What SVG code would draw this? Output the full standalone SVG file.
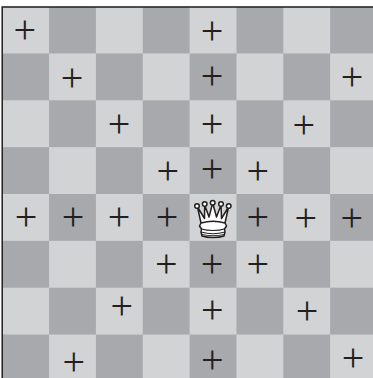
<svg xmlns="http://www.w3.org/2000/svg" width="373" height="378" viewBox="0 0 373 378">
<style>
.l{fill:#d1d3d4}.d{fill:#a7a9ac}
.p{font-family:"Liberation Serif",serif;font-size:40px;fill:#231f20;text-anchor:middle}
.q{fill:#fff;stroke:#231f20;stroke-width:1.500;stroke-linejoin:round}
</style>
<defs><pattern id="b" x="2.2" y="6.6" width="93.7" height="93.7" patternUnits="userSpaceOnUse">
<rect width="93.7" height="93.7" class="l"/><rect x="46.85" width="46.85" height="46.85" class="d"/><rect y="46.85" width="46.85" height="46.85" class="d"/></pattern></defs>
<rect width="373" height="378" fill="#fff"/>
<g id="board"><rect x="2.2" y="6.6" width="372" height="372" fill="url(#b)"/>
<path d="M2.2 378V7H373" fill="none" stroke="#231f20" stroke-width="1.5"/></g>
<g id="marks">
<text class="p" x="24.700" y="43">+</text><text class="p" x="212" y="44">+</text>
<text class="p" x="72" y="91">+</text><text class="p" x="212" y="89">+</text><text class="p" x="352" y="90">+</text>
<text class="p" x="119" y="136.500">+</text><text class="p" x="212" y="137">+</text><text class="p" x="303.700" y="138">+</text>
<text class="p" x="167.700" y="184">+</text><text class="p" x="212" y="182">+</text><text class="p" x="257.700" y="183.500">+</text>
<text class="p" x="26" y="230">+</text><text class="p" x="73" y="230">+</text><text class="p" x="119" y="230">+</text><text class="p" x="167" y="230">+</text><text class="p" x="257.700" y="230">+</text><text class="p" x="305.700" y="230.500">+</text><text class="p" x="351.700" y="230.500">+</text>
<text class="p" x="166.300" y="277">+</text><text class="p" x="212" y="277">+</text><text class="p" x="257.700" y="277">+</text>
<text class="p" x="121.700" y="319">+</text><text class="p" x="212.300" y="323">+</text><text class="p" x="307" y="324">+</text>
<text class="p" x="73.700" y="375">+</text><text class="p" x="212.300" y="373">+</text><text class="p" x="353" y="370.500">+</text>
</g>
<g id="queen">
<path class="q" d="M197.500 207L201 223C207 226.500 219 226.500 225 223L228.500 207L221.500 218.500L221 205L216.500 217L212.700 203L209 217L204.700 205L204.500 218.500Z"/>
<path class="q" d="M201 223C208 221 218 221 225 223L226.500 226L224.500 229L225 232L224 236C218 238 208 238 202 236L201 232L201.500 229L199.500 226Z"/>
<path d="M201.500 229C208 231 218 231 224.500 229M201 232C208 234 218 234 225 232M202 234.500C208 236 218 236 224 234.500" fill="none" stroke="#231f20" stroke-width="1.100"/>
<circle class="q" cx="197" cy="206" r="2.300"/><circle class="q" cx="204.700" cy="204" r="2.300"/><circle class="q" cx="212.700" cy="202.700" r="2.300"/><circle class="q" cx="221" cy="204" r="2.300"/><circle class="q" cx="228.700" cy="206" r="2.300"/>
</g>
</svg>
